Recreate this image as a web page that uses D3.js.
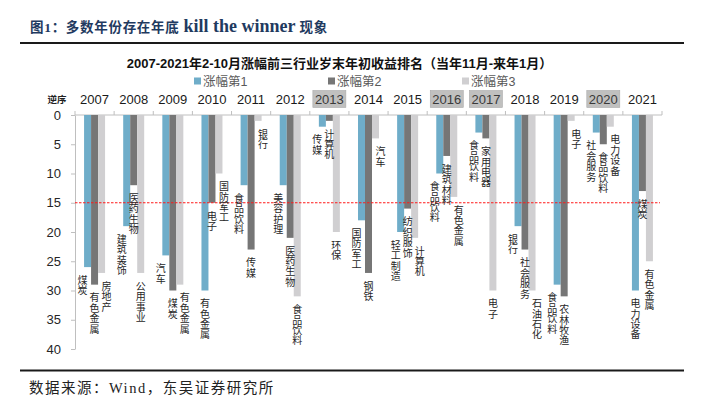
<!DOCTYPE html>
<html>
<head>
<meta charset="utf-8">
<script src="https://cdn.jsdelivr.net/npm/d3@7"></script>
<style>
  body { margin: 0; background: #fff; }
  svg { display: block; }
</style>
</head>
<body>
<svg id="chart" width="702" height="397"></svg>
<script>
// ---- data ----
const years = ['2007', '2008', '2009', '2010', '2011', '2012', '2013', '2014', '2015', '2016', '2017', '2018', '2019', '2020', '2021'];
const highlightYears = ['2013', '2016', '2017', '2020'];
const series = ['涨幅第1', '涨幅第2', '涨幅第3'];

// year-end ranking (reverse order) of the top 3 industries
const rank1 = [26, 19, 24, 30, 12, 12, 2, 18, 20, 10, 3, 19, 29, 3, 30];
const rank2 = [29, 12, 30, 15, 23, 21, 1, 27, 16, 7, 4, 23, 31, 5, 13];
const rank3 = [27, 27, 29, 10, 1, 31, 20, 4, 21, 14, 30, 30, 1, 2, 25];

const ind1 = ['煤炭', '建筑装饰', '汽车', '有色金属', '食品饮料', '美容护理', '传媒', '国防军工', '轻工制造', '食品饮料', '食品饮料', '银行', '食品饮料', '社会服务', '电力设备'];
const ind2 = ['有色金属', '医药生物', '煤炭', '电子', '传媒', '医药生物', '计算机', '钢铁', '纺织服饰', '建筑材料', '家用电器', '社会服务', '农林牧渔', '食品饮料', '煤炭'];
const ind3 = ['房地产', '公用事业', '有色金属', '国防军工', '银行', '食品饮料', '环保', '汽车', '计算机', '有色金属', '电子', '石油石化', '电子', '电力设备', '有色金属'];

const yTicks = [0, 5, 10, 15, 20, 25, 30, 35, 40];
const threshold = 15;

const colors = ['#6fadc9', '#767676', '#d0cfd1'];
const ranks = [rank1, rank2, rank3];
const names = [ind1, ind2, ind3];

const sans = '"Liberation Sans", Arial, "Noto Sans CJK SC", sans-serif';
const serif = '"Liberation Serif", "Times New Roman", "Noto Sans CJK SC", serif';
const cjk = '"Noto Sans CJK SC", sans-serif';

const svg = d3.select('#chart');

// ---- scales ----
const x0 = d3.scaleBand().domain(years).range([75, 662]);
const bw = x0.bandwidth();
const x1 = d3.scaleBand().domain(series).range([(bw - 21) / 2, (bw + 21) / 2]);
const y = d3.scaleLinear().domain([0, 40]).range([115, 349]);

// ---- header ----
const title = svg.append('text')
  .attr('x', 30).attr('y', 32)
  .attr('font-family', serif)
  .attr('font-weight', 'bold')
  .attr('fill', '#1f3a60');
title.append('tspan').attr('font-size', 13.5).attr('letter-spacing', 0.7).text('图1：多数年份存在年底 ');
title.append('tspan').attr('font-size', 18).text('kill the winner');
title.append('tspan').attr('font-size', 13.5).attr('letter-spacing', 0.7).text(' 现象');

svg.append('line')
  .attr('x1', 20).attr('x2', 684).attr('y1', 43).attr('y2', 43)
  .attr('stroke', '#1a1a1a').attr('stroke-width', 2);

svg.append('text')
  .attr('x', 339.5).attr('y', 68)
  .attr('text-anchor', 'middle')
  .attr('font-family', sans)
  .attr('font-weight', 'bold')
  .attr('font-size', 13)
  .attr('fill', '#111')
  .text('2007-2021年2-10月涨幅前三行业岁末年初收益排名（当年11月-来年1月）');

// legend
const legend = svg.append('g').selectAll('g')
  .data(series)
  .join('g')
  .attr('transform', (d, i) => `translate(${194 + i * 134},81)`);
legend.append('rect')
  .attr('x', 0).attr('y', -3.5).attr('width', 7).attr('height', 7)
  .attr('fill', (d, i) => colors[i]);
legend.append('text')
  .attr('x', 9).attr('y', 4.5)
  .attr('font-family', sans)
  .attr('font-size', 12.5)
  .attr('fill', '#595959')
  .text(d => d);

// ---- top category axis (years) ----
svg.append('text')
  .attr('x', 57).attr('y', 102.5)
  .attr('text-anchor', 'middle')
  .attr('font-family', cjk)
  .attr('font-weight', 'bold')
  .attr('font-size', 9.5)
  .attr('fill', '#222')
  .text('逆序');

svg.append('g').selectAll('rect')
  .data(highlightYears)
  .join('rect')
  .attr('x', d => x0(d) + bw / 2 - 16.5)
  .attr('y', 90.5)
  .attr('width', 33).attr('height', 17)
  .attr('fill', '#c0c0bf')
  .attr('stroke', '#aaa')
  .attr('stroke-width', 0.6);

svg.append('g').selectAll('text')
  .data(years)
  .join('text')
  .attr('x', d => x0(d) + bw / 2)
  .attr('y', 103.5)
  .attr('text-anchor', 'middle')
  .attr('font-family', sans)
  .attr('font-size', 13)
  .attr('fill', d => highlightYears.includes(d) ? '#3a3a3a' : '#1a1a1a')
  .text(d => d);

const bounds = years.map(d => x0(d)).concat([x0.range()[1]]);
svg.append('line')
  .attr('x1', 75).attr('x2', 662).attr('y1', y(0)).attr('y2', y(0))
  .attr('stroke', '#bfbfbf');
svg.append('g').selectAll('line')
  .data(bounds)
  .join('line')
  .attr('x1', d => d).attr('x2', d => d)
  .attr('y1', y(0)).attr('y2', y(0) - 4)
  .attr('stroke', '#bfbfbf');

// ---- y axis ----
const yAxis = svg.append('g')
  .attr('transform', 'translate(75,0)')
  .call(d3.axisLeft(y).tickValues(yTicks).tickSize(4).tickSizeOuter(0).tickPadding(10));
yAxis.select('.domain').attr('stroke', '#bfbfbf');
yAxis.selectAll('.tick line').attr('stroke', '#bfbfbf');
yAxis.selectAll('.tick text')
  .attr('font-family', sans)
  .attr('font-size', 13)
  .attr('fill', '#262626');

// ---- bars ----
series.forEach((s, si) => {
  svg.append('g').selectAll('rect')
    .data(years.map((yr, i) => ({ yr, v: ranks[si][i] })))
    .join('rect')
    .attr('x', d => x0(d.yr) + x1(s))
    .attr('y', y(0))
    .attr('width', x1.bandwidth())
    .attr('height', d => y(d.v) - y(0))
    .attr('fill', colors[si]);
});

// threshold line
svg.append('line')
  .attr('x1', 75).attr('x2', 660)
  .attr('y1', y(threshold)).attr('y2', y(threshold))
  .attr('stroke', '#ff1a1a')
  .attr('stroke-width', 1)
  .attr('stroke-dasharray', '2.5,1.5');

// ---- vertical industry labels ----
const fs = 10, lh = 10.4, gap = 8;
function labelBox(i, si) {
  const cx = x0(years[i]) + x1(series[si]) + x1.bandwidth() / 2;
  const top = y(ranks[si][i]) + gap;
  return { cx, x0: cx - fs / 2, x1: cx + fs / 2, y0: top, y1: top + names[si][i].length * lh };
}
const hit = (a, b) => a.x0 < b.x1 && b.x0 < a.x1 && a.y0 < b.y1 && b.y0 < a.y1;

const labels = [];
years.forEach((yr, i) => {
  const mid = labelBox(i, 1);
  const midBar = {
    x0: x0(yr) + x1(series[1]), x1: x0(yr) + x1(series[1]) + x1.bandwidth(),
    y0: y(0), y1: y(ranks[1][i])
  };
  [0, 1, 2].forEach(si => {
    const b = labelBox(i, si);
    let dx = 0;
    if (si !== 1 && (hit(b, mid) || hit(b, midBar))) dx = si === 0 ? -5 : 5;
    labels.push({ text: names[si][i], x: b.cx + dx, top: b.y0 });
  });
});

svg.append('g')
  .attr('font-family', cjk)
  .attr('font-size', fs)
  .attr('fill', '#262626')
  .selectAll('text')
  .data(labels)
  .join('text')
  .attr('writing-mode', 'vertical-rl')
  .attr('letter-spacing', lh - fs)
  .attr('x', d => d.x)
  .attr('y', d => d.top)
  .text(d => d.text);

// ---- footer ----
svg.append('line')
  .attr('x1', 20).attr('x2', 684).attr('y1', 370.5).attr('y2', 370.5)
  .attr('stroke', '#1a1a1a').attr('stroke-width', 2);

svg.append('text')
  .attr('x', 29).attr('y', 393)
  .attr('font-family', serif)
  .attr('font-size', 14.5)
  .attr('letter-spacing', 1.5)
  .attr('fill', '#222')
  .text('数据来源：Wind，东吴证券研究所');
</script>
</body>
</html>
